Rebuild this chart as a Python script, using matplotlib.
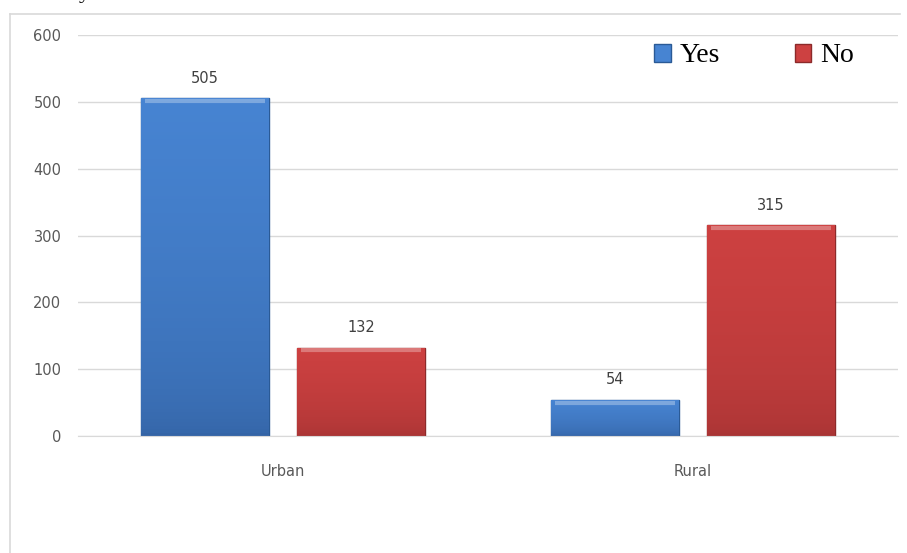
import numpy as np
import matplotlib
matplotlib.use('Agg')
import matplotlib.pyplot as plt
from matplotlib.colors import LinearSegmentedColormap
from matplotlib.lines import Line2D

# data
categories = ['Urban', 'Rural']
yes_vals = [505, 54]
no_vals = [132, 315]
y_ticks = [0, 100, 200, 300, 400, 500, 600]

blue_top, blue_bot = '#4784d2', '#3464a6'
red_top, red_bot = '#cd4141', '#a83434'

fig = plt.figure(figsize=(9.07, 5.53), dpi=100)
ax = fig.add_axes([78 / 907, 1 - 436 / 553, 820 / 907, 401 / 553])

# chart frame (partly cut off, like the screenshot)
fig.add_artist(Line2D([10 / 907, 10 / 907], [0, 1 - 14 / 553], transform=fig.transFigure,
                      color='#d9d9d9', lw=1.2))
fig.add_artist(Line2D([10 / 907, 900 / 907], [1 - 14 / 553, 1 - 14 / 553], transform=fig.transFigure,
                      color='#d9d9d9', lw=1.2))
# tail of the text line above the chart
fig.text(79 / 907, 1 + 2 / 553, 'y', family='Liberation Serif', fontsize=16,
         va='baseline', ha='left')

x = np.arange(len(categories))
w = 0.312
off = 0.19


def shaded_bars(xs, vals, c_top, c_bot, edge):
    bars = ax.bar(xs, vals, width=w, color=c_bot, edgecolor=edge, linewidth=1.0, zorder=2)
    cmap = LinearSegmentedColormap.from_list('g', [c_bot, c_top])
    grad = np.linspace(0, 1, 100).reshape(-1, 1) ** 0.5
    for b in bars:
        x0, y0 = b.get_x(), b.get_y()
        im = ax.imshow(grad, cmap=cmap, origin='lower', aspect='auto',
                       extent=[x0, x0 + b.get_width(), y0, y0 + b.get_height()], zorder=2.5)
        im.set_clip_path(b)
        # light bevel on the top edge
        ax.plot([x0 + 0.01, x0 + b.get_width() - 0.01], [y0 + b.get_height() - 4] * 2,
                color='white', alpha=0.3, lw=3, zorder=3, solid_capstyle='butt')
    return bars


b1 = shaded_bars(x - off, yes_vals, blue_top, blue_bot, '#2a5a96')
b2 = shaded_bars(x + off, no_vals, red_top, red_bot, '#8c2a2a')

for bars, vals in [(b1, yes_vals), (b2, no_vals)]:
    for b, v in zip(bars, vals):
        ax.annotate(str(v), (b.get_x() + b.get_width() / 2, v), xytext=(0, 9),
                    textcoords='offset points', ha='center', va='bottom',
                    fontsize=10.5, color='#404040')

ax.set_xlim(-0.5, 1.5)
ax.set_ylim(0, 600)
ax.set_yticks(y_ticks)
ax.set_xticks(x)
ax.set_xticklabels(categories)
ax.tick_params(axis='both', length=0, labelsize=10.5, colors='#595959')
ax.tick_params(axis='x', pad=20)
ax.tick_params(axis='y', pad=12)
ax.grid(axis='y', color='#d9d9d9', lw=1.0, zorder=0)
ax.set_axisbelow(True)
for s in ['top', 'right', 'left']:
    ax.spines[s].set_visible(False)
ax.spines['bottom'].set_color('#d9d9d9')

handles = [plt.Rectangle((0, 0), 1, 1, fc=blue_top, ec='#2a5a96'),
           plt.Rectangle((0, 0), 1, 1, fc=red_top, ec='#8c2a2a')]
ax.legend(handles, ['Yes', 'No'], loc='center', bbox_to_anchor=(754 / 907, 1 - 56 / 553),
          bbox_transform=fig.transFigure, ncol=2, frameon=False,
          prop={'family': 'Liberation Serif', 'size': 20}, handlelength=0.6,
          handleheight=0.6, handletextpad=0.3, columnspacing=2.7)

plt.savefig('out.png', dpi=100)
